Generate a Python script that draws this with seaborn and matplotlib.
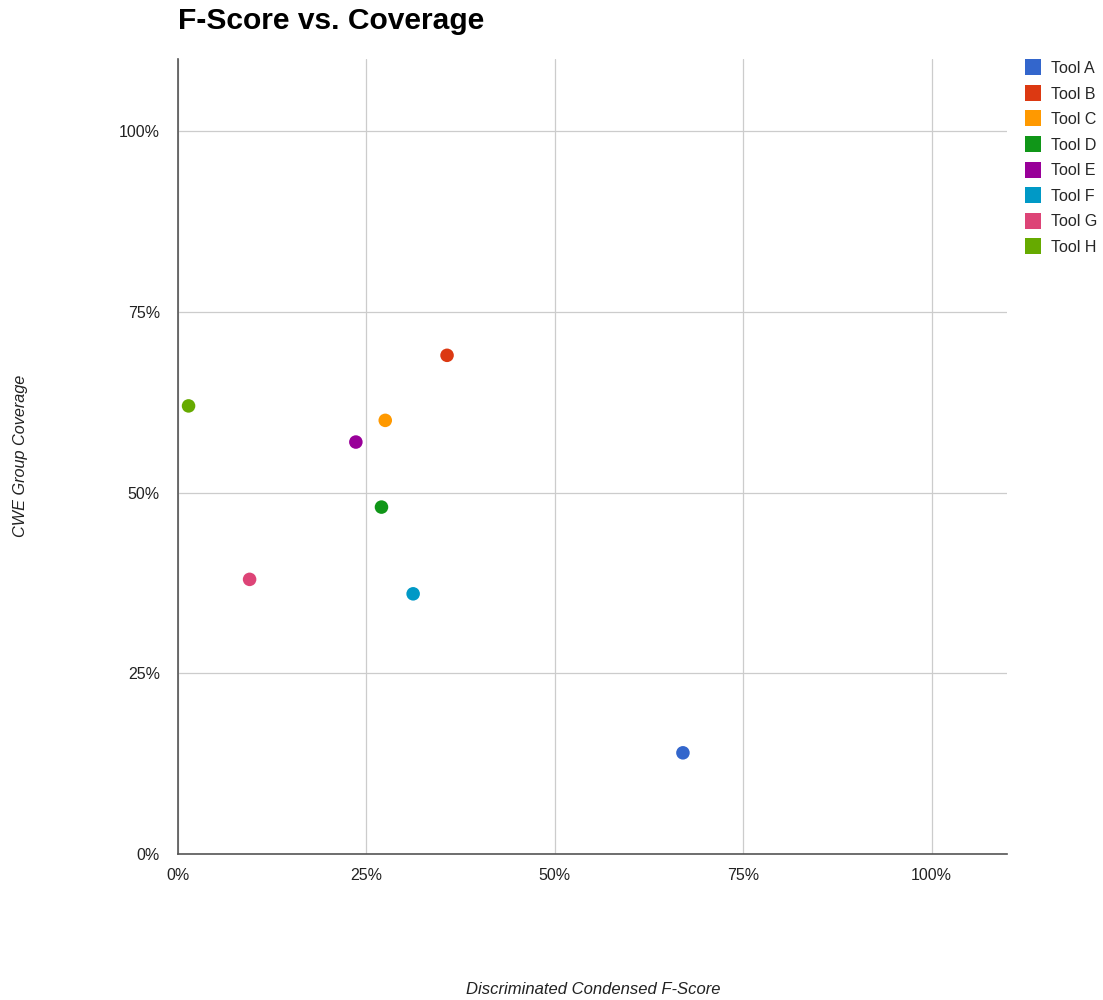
import matplotlib
matplotlib.use("Agg")
import matplotlib.pyplot as plt
from matplotlib.lines import Line2D
from matplotlib.ticker import FuncFormatter, MultipleLocator
import pandas as pd
import seaborn as sns

# Per-tool scores
tools = ["Tool A", "Tool B", "Tool C", "Tool D", "Tool E", "Tool F", "Tool G", "Tool H"]
f_score = [0.67, 0.357, 0.275, 0.27, 0.236, 0.312, 0.095, 0.014]
coverage = [0.14, 0.69, 0.60, 0.48, 0.57, 0.36, 0.38, 0.62]
colors = ["#3366cc", "#dc3912", "#ff9900", "#109618", "#990099", "#0099c6", "#dd4477", "#66aa00"]

df = pd.DataFrame({"tool": tools, "fscore": f_score, "coverage": coverage})

sns.set_theme(style="white")
plt.rcParams["font.family"] = ["Liberation Sans", "DejaVu Sans"]

fig = plt.figure(figsize=(11.03, 10.0), dpi=100)
ax = fig.add_axes([178 / 1103, 146 / 1000, (1007 - 178) / 1103, (854 - 59) / 1000])

sns.scatterplot(data=df, x="fscore", y="coverage", hue="tool", hue_order=tools,
                palette=colors, s=95, linewidth=0, legend=False, ax=ax, zorder=3)

ax.set_xlim(0, 1.1)
ax.set_ylim(0, 1.1)
ax.xaxis.set_major_locator(MultipleLocator(0.25))
ax.yaxis.set_major_locator(MultipleLocator(0.25))
pct = FuncFormatter(lambda v, _: f"{v * 100:.0f}%")
ax.xaxis.set_major_formatter(pct)
ax.yaxis.set_major_formatter(pct)
ax.tick_params(axis="both", length=0, labelsize=11.5, labelcolor="#222222")
ax.tick_params(axis="x", pad=10)
ax.tick_params(axis="y", pad=13)

ax.grid(True, color="#cccccc", linewidth=0.9)
ax.set_axisbelow(True)
for side in ("top", "right"):
    ax.spines[side].set_visible(False)
for side in ("left", "bottom"):
    ax.spines[side].set_color("#555555")
    ax.spines[side].set_linewidth(1.2)

ax.set_xlabel("")
ax.set_ylabel("")
fig.text(593 / 1103, 1 - 990 / 1000, "Discriminated Condensed F-Score", ha="center", va="center",
         fontsize=12, style="italic", color="#222222")
fig.text(21 / 1103, 1 - 456 / 1000, "CWE Group Coverage", ha="center", va="center",
         rotation=90, fontsize=11.7, style="italic", color="#222222")
fig.text(178 / 1103, 1 - 21 / 1000, "F-Score vs. Coverage", ha="left", va="center",
         fontsize=21.6, fontweight="bold", color="#000000")

handles = [Line2D([0], [0], marker="s", linestyle="", markersize=12,
                  markerfacecolor=c, markeredgewidth=0) for c in colors]
fig.legend(handles, tools, loc="upper left", bbox_to_anchor=(1025 / 1103, 1 - 61 / 1000),
           frameon=False, fontsize=11.5, handlelength=1.0, handletextpad=0.6,
           labelspacing=0.66, borderaxespad=0, borderpad=0)

fig.savefig("out.png", dpi=100)
